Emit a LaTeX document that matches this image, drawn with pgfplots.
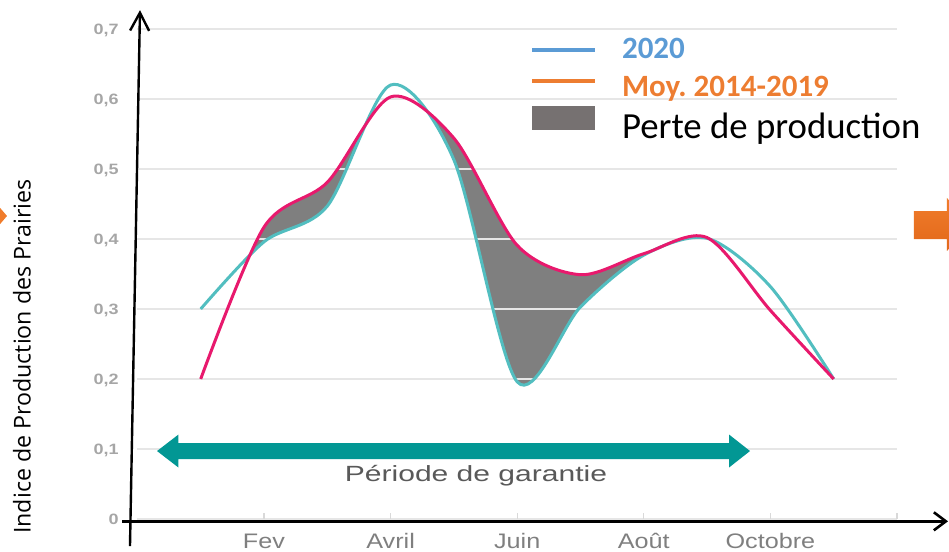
\documentclass[border=0pt]{standalone}
\usepackage{fontspec}
\setmainfont{Liberation Sans}
\newfontfamily\carlito{Carlito}
\newfontfamily\opensans{Open Sans}
\usepackage{graphicx}
\usepackage{pgfplots}
\usepackage{pgfplotstable}
\pgfplotsset{compat=1.18}
\usetikzlibrary{arrows.meta}

\definecolor{c2020}{HTML}{52BEC0}
\definecolor{cmoy}{HTML}{E8196D}
\definecolor{lossgray}{HTML}{7F7F7F}
\definecolor{arrowteal}{HTML}{029794}
\definecolor{legblue}{HTML}{5B9BD5}
\definecolor{legorange}{HTML}{ED7D31}
\definecolor{legbox}{HTML}{767171}
\definecolor{gridgray}{HTML}{E6E6E6}
\definecolor{tickgray}{HTML}{D9D9D9}
\definecolor{ytickgray}{HTML}{A6A6A6}
\definecolor{xtickgray}{HTML}{7F7F7F}
\definecolor{textgray}{HTML}{595959}
\definecolor{slideorange}{HTML}{F07C2B}
\definecolor{slideorangedark}{HTML}{E2681A}

\pgfplotsset{
  legline/.style={legend image code/.code={\draw[##1,line width=2pt] (0pt,0pt) -- (31.5pt,0pt);}},
  lossbox legend/.style={legend image code/.code={\fill[##1] (0pt,-4.5pt) rectangle (31.5pt,7.5pt);}},
}

% indice mensuel, janvier (1) a novembre (11)
\pgfplotstableread{
m  y2020 moy
1  0.300 0.200
2  0.396 0.417
3  0.447 0.481
4  0.620 0.603
5  0.513 0.544
6  0.196 0.391
7  0.303 0.349
8  0.377 0.379
9  0.401 0.402
10 0.332 0.298
11 0.200 0.200
}\prairies

\begin{document}
\begin{tikzpicture}
\begin{axis}[
  set layers,
  scale only axis,
  width=379.8pt, height=245pt,
  xmin=0, xmax=12, ymin=0, ymax=0.7,
  clip=false,
  axis line style={draw=none},
  xtick={2,4,6,8,10,12},
  xticklabels={{\scalebox{1.2}[1]{Fev}},{\scalebox{1.2}[1]{Avril}},{\scalebox{1.2}[1]{Juin}},{\scalebox{1.2}[1]{Août}},{\scalebox{1.2}[1]{Octobre}},{}},
  ytick={0,0.1,0.2,0.3,0.4,0.5,0.6,0.7},
  tick pos=left,
  tick align=inside,
  major tick length=3pt,
  xtick style={draw=tickgray, line width=0.6pt},
  ytick style={draw=none},
  ymajorgrids,
  major grid style={draw=gridgray, line width=0.6pt},
  /pgf/number format/use comma,
  /pgf/number format/assume math mode=true,
  yticklabel={\scalebox{1.2}[1]{\pgfmathprintnumber{\tick}}},
  yticklabel style={font=\bfseries\fontsize{7.5}{9}\selectfont, text=ytickgray,
    anchor=base east, inner sep=0pt, xshift=-9.2pt, yshift=-2.7pt},
  xticklabel style={font=\fontsize{10.5}{12}\selectfont, text=xtickgray,
    anchor=base, inner sep=0pt, yshift=-15pt},
  ylabel={Indice de Production des Prairies},
  ylabel style={at={(rel axis cs:-0.1519,0.3316)}, anchor=center,
    font=\opensans\fontsize{11.6}{14}\selectfont, text=black},
  legend cell align=left,
  legend style={
    at={(rel axis cs:0.5169,0.9808)}, anchor=north west,
    draw=none, fill=none, inner sep=0pt, outer sep=0pt,
    row sep=0pt, column sep=12.5pt,
    font=\carlito\bfseries\fontsize{15.5}{18}\selectfont,
    nodes={inner sep=0pt, outer sep=0pt},
  },
]

% perte de production : gris sous la moyenne, blanc sous 2020
\addplot[forget plot, on layer=axis background, draw=none, fill=lossgray, smooth]
  table[x=m, y=moy] {\prairies} \closedcycle;
\addplot[forget plot, on layer=axis background, draw=white, line width=0.8pt, fill=white, smooth]
  table[x=m, y=y2020] {\prairies} \closedcycle;

\addplot[forget plot, color=c2020, line width=1.5pt, smooth] table[x=m, y=y2020] {\prairies};
\addplot[forget plot, color=cmoy, line width=1.5pt, smooth] table[x=m, y=moy] {\prairies};

\addlegendimage{legline, color=legblue}
\addlegendentry{\textcolor{legblue}{2020}}
\addlegendimage{legline, color=legorange}
\addlegendentry{\rule[-6.5pt]{0pt}{24pt}\textcolor{legorange}{Moy.\ 2014-2019}}
\addlegendimage{lossbox legend, fill=legbox, draw=none}
\addlegendentry{\rule[-4pt]{0pt}{23.5pt}\mdseries\fontsize{18.4}{22}\selectfont Perte de production}

% periode de garantie
\fill[arrowteal] (axis cs:0.310,0.0971) -- (axis cs:0.649,0.1207) -- (axis cs:0.649,0.1085)
  -- (axis cs:9.346,0.1085) -- (axis cs:9.346,0.1207) -- (axis cs:9.678,0.0971)
  -- (axis cs:9.346,0.0735) -- (axis cs:9.346,0.0857) -- (axis cs:0.649,0.0857)
  -- (axis cs:0.649,0.0735) -- cycle;
\node[anchor=base, font=\fontsize{11}{13}\selectfont, text=textgray, inner sep=0pt]
  at (axis cs:5.349,0.0529) {\scalebox{1.365}[1]{Période de garantie}};

% axes dessines a la main
\draw[line width=1.2pt, -{Straight Barb[length=9pt,width=9.5pt]}]
  (axis cs:-0.117,-0.0386) -- (axis cs:0.041,0.727);
\draw[line width=1.3pt, -{Straight Barb[length=6pt,width=9pt]}]
  (axis cs:-0.243,-0.0033) -- (axis cs:12.806,-0.0033);

% fleches de la diapositive
\fill[slideorange] (axis cs:-2.250,0.4529) -- (axis cs:-2.060,0.4329) -- (axis cs:-2.250,0.4129) -- cycle;
\shade[top color=slideorange, bottom color=slideorangedark]
  (axis cs:12.268,0.44) -- (axis cs:12.789,0.44) -- (axis cs:12.789,0.4586)
  -- (axis cs:13.231,0.4207) -- (axis cs:12.789,0.3829) -- (axis cs:12.789,0.40)
  -- (axis cs:12.268,0.40) -- cycle;
\end{axis}
\pgfresetboundingbox
\path[use as bounding box] ([shift={(-68.7pt,-16.5pt)}]current axis.south west) rectangle ++(474.5pt,276pt);
\end{tikzpicture}
\end{document}
